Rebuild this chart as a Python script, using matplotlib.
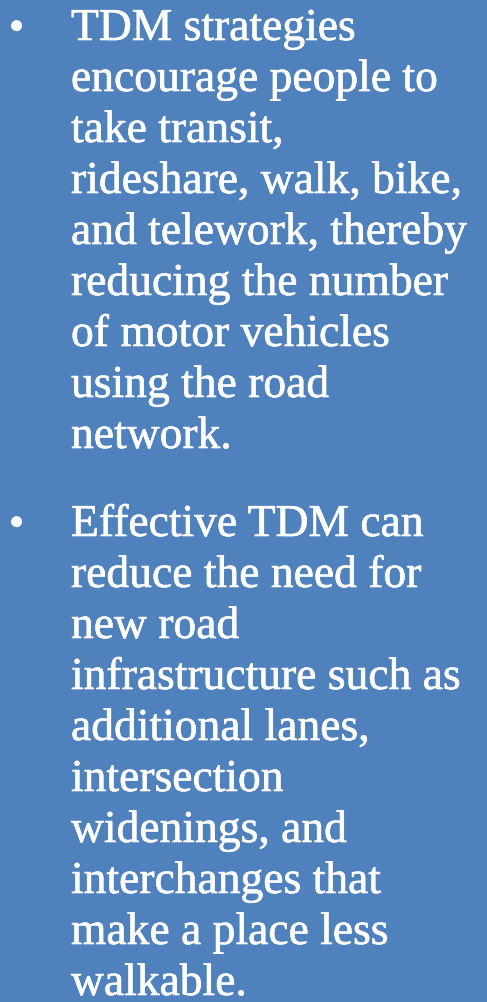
import matplotlib
matplotlib.use("Agg")
import matplotlib.pyplot as plt
import matplotlib.patheffects as pe

# ------------------------------------------------------------
# Content
# ------------------------------------------------------------
BULLET_1 = [
    "TDM strategies",
    "encourage people to",
    "take transit,",
    "rideshare, walk, bike,",
    "and telework, thereby",
    "reducing the number",
    "of motor vehicles",
    "using the road",
    "network.",
]
BULLET_2 = [
    "Effective TDM can",
    "reduce the need for",
    "new road",
    "infrastructure such as",
    "additional lanes,",
    "intersection",
    "widenings, and",
    "interchanges that",
    "make a place less",
    "walkable.",
]

# ------------------------------------------------------------
# Layout (pixels, top-left origin)
# ------------------------------------------------------------
W, H = 487, 1002
BG = "#4F81BD"
FONT = "Liberation Serif"
TEXT_X = 71
BULLET_X = 16.5
LINE_H = 51.0
STARTS = [40, 536]
REF_LINE = "and telework, thereby"
REF_WIDTH = 396  # px, a touch under the reference to keep heights close

fig = plt.figure(figsize=(W / 100, H / 100), dpi=100)
fig.patch.set_facecolor(BG)

# size the font so one known line spans about the same width as the reference
renderer = fig.canvas.get_renderer()
probe = fig.text(0, 0, REF_LINE, family=FONT, fontsize=30)
w = probe.get_window_extent(renderer).width
probe.remove()
SIZE = 30 * REF_WIDTH / w

# Cambria-ish weight: thicken the strokes a little
thick = [pe.withStroke(linewidth=0.45, foreground="white")]


def put(x, y, s, size=SIZE, ha="left"):
    fig.text(x / W, 1 - y / H, s, color="white", family=FONT,
             fontsize=size, va="baseline", ha=ha, path_effects=thick)


for start, lines in zip(STARTS, [BULLET_1, BULLET_2]):
    put(BULLET_X, start, "\u2022", size=SIZE * 0.95, ha="center")
    for i, line in enumerate(lines):
        put(TEXT_X, start + i * LINE_H, line)

fig.savefig("out.png", dpi=100, facecolor=BG)
